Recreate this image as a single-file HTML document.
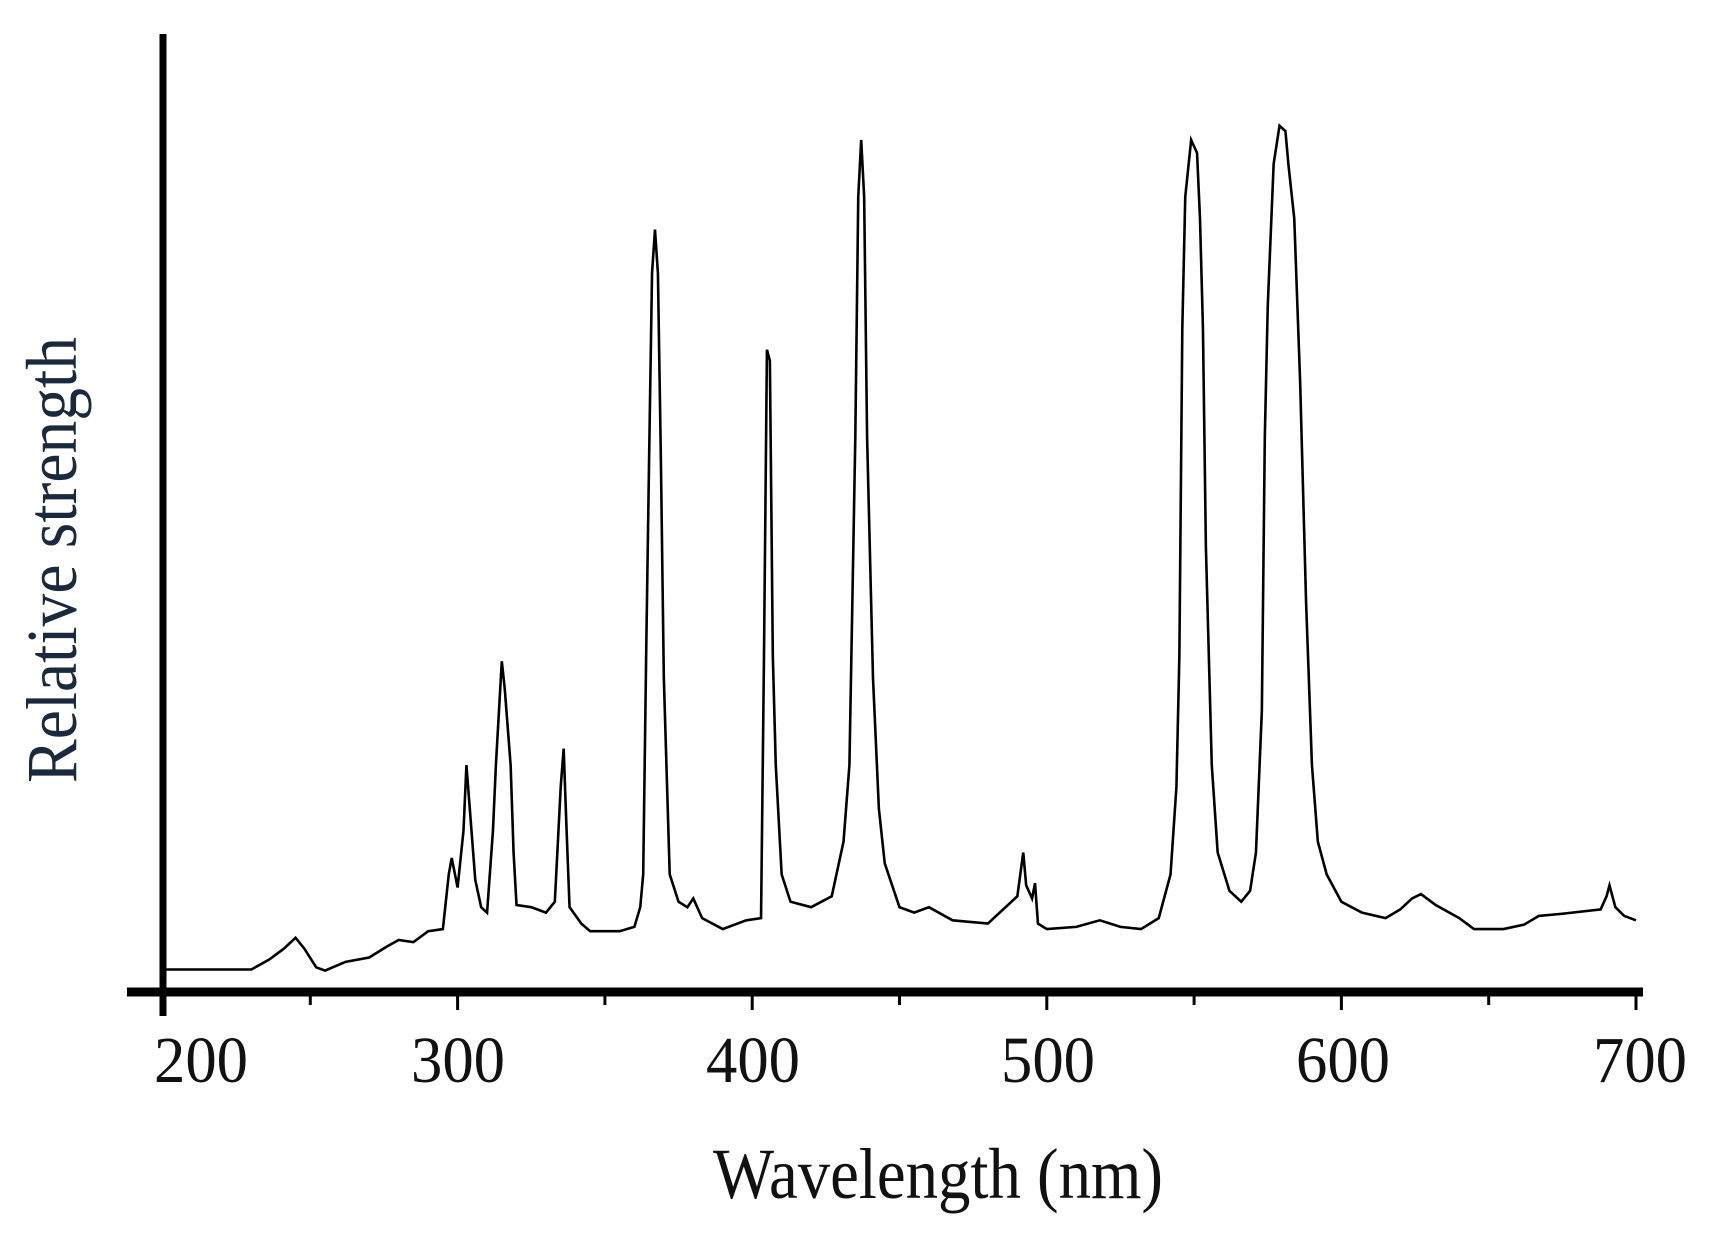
<!DOCTYPE html>
<html><head><meta charset="utf-8"><style>
html,body{margin:0;padding:0;background:#fff;}
svg{display:block;}
text{font-family:"Liberation Serif",serif;fill:#111;}
</style></head><body>
<svg width="1713" height="1240" viewBox="0 0 1713 1240" xmlns="http://www.w3.org/2000/svg">
<rect width="1713" height="1240" fill="#fff"/>
<line x1="163" y1="34" x2="163" y2="1016" stroke="#000" stroke-width="7"/>
<line x1="127" y1="992" x2="1643" y2="992" stroke="#000" stroke-width="9"/>
<g stroke="#000" stroke-width="3">
<line x1="163" y1="996" x2="163" y2="1010"/>
<line x1="310.3" y1="996" x2="310.3" y2="1005"/>
<line x1="457.6" y1="996" x2="457.6" y2="1010"/>
<line x1="604.9" y1="996" x2="604.9" y2="1005"/>
<line x1="752.2" y1="996" x2="752.2" y2="1010"/>
<line x1="899.5" y1="996" x2="899.5" y2="1005"/>
<line x1="1046.8" y1="996" x2="1046.8" y2="1010"/>
<line x1="1194.1" y1="996" x2="1194.1" y2="1005"/>
<line x1="1341.4" y1="996" x2="1341.4" y2="1010"/>
<line x1="1488.7" y1="996" x2="1488.7" y2="1005"/>
<line x1="1636" y1="996" x2="1636" y2="1010"/>
</g>
<g transform="matrix(2.946 0 0 1.093 -426.2 0)">
<polyline fill="none" stroke="#000" stroke-width="2.6" vector-effect="non-scaling-stroke" points="200,887 230,887 236,878 241,868 245,858 248,868 252,885 255,888 262,880 270,876 276,866 280,860 285,862 290,852 295,850 297,800 298,785 300,812 302,760 303,700 305,770 306,805 308,830 310,835 312,760 313,700 315,605 316,630 318,700 319,780 320,828 325,830 330,835 333,825 335,720 336,685 337,760 338,830 342,845 345,852 355,852 360,848 362,830 363,800 364,600 365,420 366,250 367,210 368,250 369,420 370,620 372,800 375,825 378,830 380,822 383,840 390,850 398,842 403,840 404,600 405,320 406,330 407,600 408,700 410,800 413,825 420,830 427,820 431,770 433,700 434,550 435,400 436,180 437,128 438,180 439,400 441,620 443,740 445,790 450,830 455,835 460,830 468,842 480,845 486,830 490,820 491,800 492,780 493,810 495,822 496,808 497,845 500,850 510,848 518,842 525,848 532,850 538,840 542,800 544,720 545,600 546,300 547,180 549,128 551,140 552,200 553,300 554,500 556,700 558,780 562,815 566,825 569,815 571,780 573,650 574,400 575,280 577,150 579,115 581,120 582,150 584,200 586,350 588,550 590,700 592,770 595,800 600,825 607,835 615,840 620,832 624,822 627,818 632,828 640,840 645,850 655,850 662,846 667,838 675,836 688,832 690,820 691,810 693,830 696,838 700,842"/>
</g>
<g font-size="66" text-anchor="middle">
<text x="201" y="1082" textLength="94" lengthAdjust="spacingAndGlyphs">200</text>
<text x="458" y="1082" textLength="94" lengthAdjust="spacingAndGlyphs">300</text>
<text x="753" y="1082" textLength="94" lengthAdjust="spacingAndGlyphs">400</text>
<text x="1048" y="1082" textLength="94" lengthAdjust="spacingAndGlyphs">500</text>
<text x="1343" y="1082" textLength="94" lengthAdjust="spacingAndGlyphs">600</text>
<text x="1640" y="1082" textLength="94" lengthAdjust="spacingAndGlyphs">700</text>
</g>
<text x="938" y="1198" font-size="72" text-anchor="middle" textLength="450" lengthAdjust="spacingAndGlyphs">Wavelength (nm)</text>
<text transform="translate(76,560) rotate(-90)" font-size="72" text-anchor="middle" textLength="446" lengthAdjust="spacingAndGlyphs" style="fill:#1a2a3c">Relative strength</text>
</svg>
</body></html>
